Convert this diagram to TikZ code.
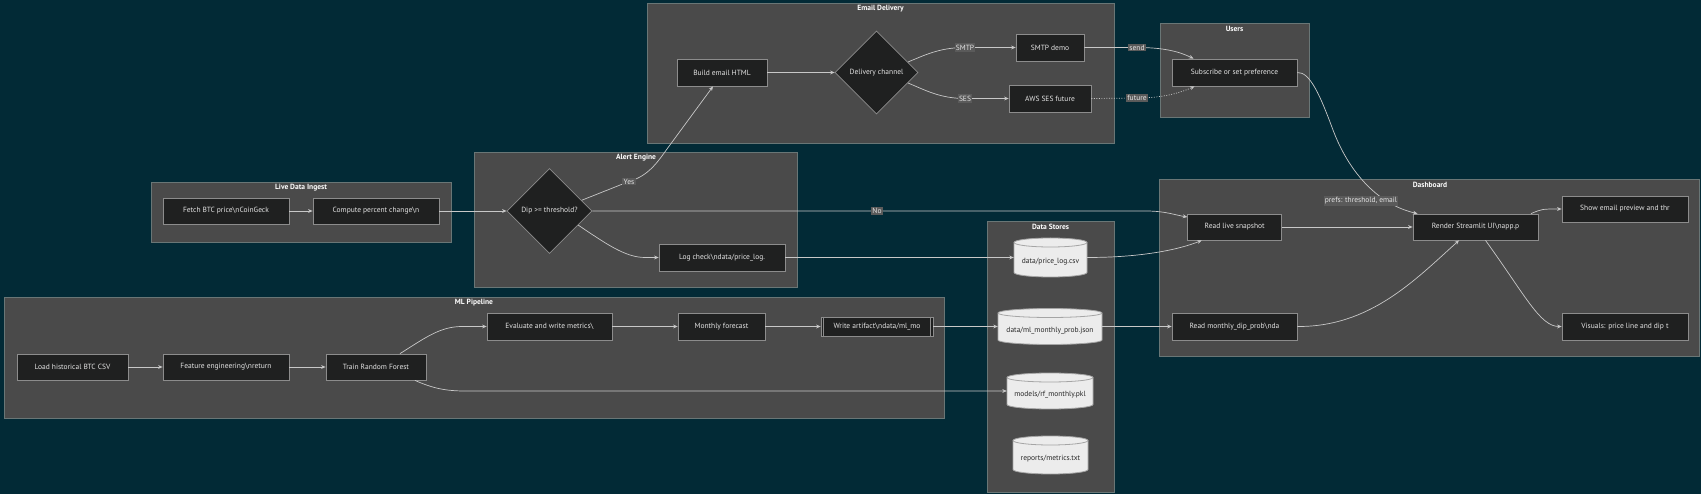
\documentclass[tikz,border=0pt]{standalone}
\usepackage{fontspec}
\setmainfont{PT Sans}
\usetikzlibrary{shapes.geometric,arrows.meta,calc}
\definecolor{bgc}{RGB}{2,42,54}
\definecolor{clusfill}{RGB}{74,74,74}
\definecolor{clusborder}{RGB}{105,118,118}
\definecolor{nodefill}{RGB}{31,32,32}
\definecolor{nodeborder}{RGB}{140,140,140}
\definecolor{nodetext}{RGB}{228,228,228}
\definecolor{edgec}{RGB}{200,200,200}
\definecolor{labfill}{RGB}{90,90,90}
\definecolor{cylfill}{RGB}{236,236,236}
\definecolor{cylborder}{RGB}{165,165,165}
\definecolor{cyltext}{RGB}{40,40,40}
\pgfdeclarelayer{back}
\pgfsetlayers{back,main}
\newcommand{\dbcyl}[6]{%
  \begin{pgfonlayer}{back}
  \path[fill=cylfill, draw=cylborder, line width=0.8pt]
    (#2-#4/2,#3-#5/2+4.5) -- (#2-#4/2,#3+#5/2-4.5)
    arc[start angle=180,end angle=0,x radius=#4/2,y radius=4.5]
    -- (#2+#4/2,#3-#5/2+4.5)
    arc[start angle=0,end angle=-180,x radius=#4/2,y radius=4.5] -- cycle;
  \draw[cylborder, line width=0.8pt] (#2-#4/2,#3-#5/2+4.5)
    arc[start angle=180,end angle=0,x radius=#4/2,y radius=4.5];
  \end{pgfonlayer}
  \node[inner sep=0pt, minimum width=#4 pt, minimum height=#5 pt] (#1) at (#2,#3) {};
  \node[text=cyltext, inner sep=0pt] at (#2,#3+4) {#6};
}
\begin{document}
\begin{tikzpicture}[x=1pt,y=-1pt, font=\fontsize{7.5}{9}\selectfont,
  box/.style 2 args={draw=nodeborder, fill=nodefill, text=nodetext, inner sep=0pt,
    line width=0.8pt, minimum width=#1pt, minimum height=#2pt},
  dia/.style={diamond, draw=nodeborder, fill=nodefill, text=nodetext, inner sep=0pt,
    line width=0.8pt, minimum width=#1pt, minimum height=#1pt},
  clus/.style={fill=clusfill, draw=clusborder, line width=0.8pt},
  ctitle/.style={text=white, font=\fontsize{7.5}{9}\selectfont\bfseries, inner sep=0pt},
  conn/.style={draw=edgec, line width=0.7pt, -{Stealth[length=4.5pt,width=3.8pt]}},
  dots/.style={dash pattern=on 1pt off 1.5pt},
  lab/.style={fill=labfill, text=nodetext, inner sep=1.3pt}
]
\begin{pgfonlayer}{back}
\fill[bgc] (0,0) rectangle (1701,494);
\draw[clus] (151,182) rectangle (451,242);
\draw[clus] (474,152) rectangle (797,287);
\draw[clus] (647,3) rectangle (1114,143);
\draw[clus] (1160,23) rectangle (1309,117);
\draw[clus] (4,297) rectangle (944,418);
\draw[clus] (987,221) rectangle (1114,492);
\draw[clus] (1159,179) rectangle (1699,356);
\end{pgfonlayer}
\useasboundingbox (0,0) rectangle (1701,494);

\node[ctitle] (tlive) at (301,187.5) {Live Data Ingest};
\node[ctitle] (talert) at (636,157.5) {Alert Engine};
\node[ctitle] (temail) at (880.5,9) {Email Delivery};
\node[ctitle] (tusers) at (1234.5,29) {Users};
\node[ctitle] (tml) at (474,302.5) {ML Pipeline};
\node[ctitle] (tdata) at (1050.5,226.5) {Data Stores};
\node[ctitle] (tdash) at (1430,184.5) {Dashboard};

% Live data ingest
\node[box={126}{26}] (fetch) at (226,211) {Fetch BTC price\textbackslash nCoinGeck};
\node[box={126}{26}] (compute) at (376,211) {Compute percent change\textbackslash n};
% Alert engine
\node[dia=85] (dip) at (549.5,211) {Dip >= threshold?};
\node[box={126}{27}] (logcheck) at (722,257.5) {Log check\textbackslash ndata/price\_log.};
% Email delivery
\node[box={90}{27}] (build) at (722,72.5) {Build email HTML};
\node[dia=83] (chan) at (876.5,72.5) {Delivery channel};
\node[box={68}{27}] (smtp) at (1050,47.5) {SMTP demo};
\node[box={82}{27}] (ses) at (1050,98.5) {AWS SES future};
% Users
\node[box={125}{27}] (subscribe) at (1234.5,72.5) {Subscribe or set preference};
% ML pipeline
\node[box={111}{26}] (load) at (72.5,367) {Load historical BTC CSV};
\node[box={126}{26}] (feature) at (226,367) {Feature engineering\textbackslash nreturn};
\node[box={100}{26}] (train) at (376,367) {Train Random Forest};
\node[box={125}{27}] (evaluate) at (549.5,326.5) {Evaluate and write metrics\textbackslash};
\node[box={87}{27}] (monthly) at (721.5,326.5) {Monthly forecast};
\node[box={112}{19}] (art) at (877,326.5) {Write artifact\textbackslash ndata/ml\_mo};
\draw[nodeborder, line width=0.8pt] ([xshift=3pt]art.north west) -- ([xshift=3pt]art.south west);
\draw[nodeborder, line width=0.8pt] ([xshift=-3pt]art.north east) -- ([xshift=-3pt]art.south east);
% Data stores
\dbcyl{pcsv}{1050.5}{257.5}{73}{39}{data/price\_log.csv}
\dbcyl{json}{1050}{326.5}{104}{36}{data/ml\_monthly\_prob.json}
\dbcyl{pkl}{1050}{391}{86}{36}{models/rf\_monthly.pkl}
\dbcyl{metrics}{1050.5}{455}{75}{38}{reports/metrics.txt}
% Dashboard
\node[box={94}{26}] (readlive) at (1234.7,227) {Read live snapshot};
\node[box={125}{26}] (render) at (1475.5,227) {Render Streamlit UI\textbackslash napp.p};
\node[box={126}{26}] (show) at (1625,209) {Show email preview and thr};
\node[box={125}{27}] (readmonthly) at (1234.5,326.5) {Read monthly\_dip\_prob\textbackslash nda};
\node[box={126}{27}] (visuals) at (1625,326.5) {Visuals: price line and dip t};

% connectors
\draw[conn] (fetch) -- (compute);
\draw[conn] (compute) -- (dip);
\draw[conn] ($(dip.east)!0.25!(dip.north)$) -- (629,181.5) node[lab]{Yes}
   .. controls (648,176) and (657,163) .. (667,149) -- ([xshift=-9pt]build.south);
\draw[conn] (dip.east) -- (877,211) node[lab]{No} -- (1146,211)
   .. controls (1165,211) and (1175,215) .. ([yshift=10pt]readlive.west);
\draw[conn] ($(dip.east)!0.33!(dip.south)$) .. controls (605,243) and (625,257.5) .. (645,257.5) -- (logcheck.west);
\draw[conn] (logcheck.east) -- (pcsv.west);
\draw[conn] (pcsv.east) .. controls (1140,257.5) and (1178,250) .. ([xshift=-33pt]readlive.south);
\draw[conn] (build) -- (chan);
\draw[conn] ($(chan.east)!0.25!(chan.north)$) .. controls (925,55) and (940,47.5) .. (965,47.5) node[lab]{SMTP} -- (smtp.west);
\draw[conn] ($(chan.east)!0.25!(chan.south)$) .. controls (925,90) and (940,98.5) .. (965,98.5) node[lab]{SES} -- (ses.west);
\draw[conn] (smtp.east) -- (1137,47.5) node[lab]{send}
   .. controls (1165,47.5) and (1180,52) .. ([xshift=-41pt]subscribe.north);
\draw[conn, dots] (ses.east) -- (1137,98) node[lab]{future}
   .. controls (1165,98) and (1182,92) .. ([xshift=-40pt]subscribe.south);
\draw[conn] (subscribe.east) .. controls (1310,72) and (1320,95) .. (1333,130)
   .. controls (1350,175) and (1380,205) .. ([xshift=-58pt]render.north);
\node[lab] (prefs) at (1361,201) {prefs: threshold, email};
\draw[conn] (readlive) -- (render);
\draw[conn] (readmonthly.east) .. controls (1370,327) and (1415,280) .. ([xshift=-16.5pt]render.south);
\draw[conn] ([xshift=55.5pt]render.north) .. controls (1542,209) .. (show.west);
\draw[conn] ([xshift=10pt]render.south) .. controls (1525,295) and (1540,326.5) .. (visuals.west);
\draw[conn] (load) -- (feature);
\draw[conn] (feature) -- (train);
\draw[conn] ([xshift=24pt]train.north) .. controls (425,338) and (440,326.5) .. (462,326.5) -- (evaluate.west);
\draw[conn] (evaluate) -- (monthly);
\draw[conn] (monthly) -- (art);
\draw[conn] (art) -- (json);
\draw[conn] (json) -- (readmonthly);
\draw[conn] ([xshift=39pt]train.south) .. controls (432,388) and (445,391) .. (465,391) -- (pkl.west);
\end{tikzpicture}
\end{document}
